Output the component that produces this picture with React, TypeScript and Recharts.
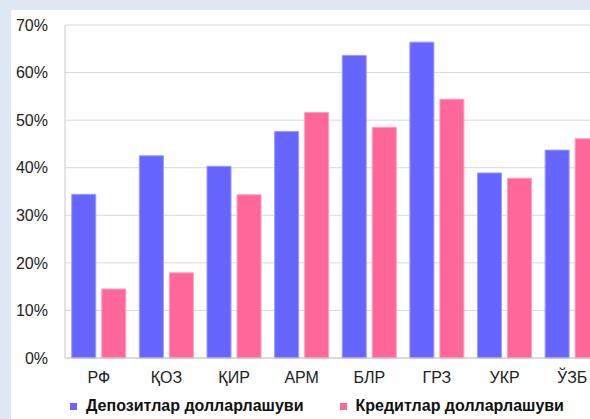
import { BarChart, Bar, XAxis, YAxis, CartesianGrid } from 'recharts';

const countries = ['РФ', 'ҚОЗ', 'ҚИР', 'АРМ', 'БЛР', 'ГРЗ', 'УКР', 'ЎЗБ'];
const deposits = [34.4, 42.5, 40.3, 47.6, 63.6, 66.4, 38.9, 43.7];
const loans = [14.5, 17.9, 34.3, 51.6, 48.5, 54.4, 37.8, 46.1];
const seriesNames = ['Депозитлар долларлашуви', 'Кредитлар долларлашуви'];
const yTicks = [0, 10, 20, 30, 40, 50, 60, 70];

const COLORS = {
  deposits: '#6666ff',
  depositsEdge: '#9a9aff',
  loans: '#ff6699',
  loansEdge: '#ff9fc0',
};

const data = countries.map((c, i) => ({ country: c, deposits: deposits[i], loans: loans[i] }));

const FONT = '"Liberation Sans", Arial, sans-serif';

export default function App() {
  return (
    <div
      style={{
        position: 'fixed',
        left: 0,
        top: 0,
        width: 590,
        height: 419,
        background: '#dde8f4',
        overflow: 'hidden',
        fontFamily: FONT,
      }}
    >
      <div style={{ position: 'absolute', left: 11, top: 10, width: 620, height: 409, background: '#fff' }}>
        <BarChart
          width={600}
          height={409}
          data={data}
          margin={{ top: 15, right: 5, left: 0, bottom: 31 }}
          barCategoryGap="10%"
          barGap={6}
        >
          <CartesianGrid vertical={false} stroke="#d9d9d9" />
          <XAxis
            dataKey="country"
            height={30}
            tickLine={false}
            stroke="#c8c8c8"
            tick={{ fill: '#222', fontSize: 16, fontFamily: FONT }}
            tickMargin={8}
            interval={0}
          />
          <YAxis
            width={54}
            domain={[0, 70]}
            ticks={yTicks}
            tickFormatter={(v) => `${v}%`}
            tickLine={false}
            stroke="#c8c8c8"
            tick={{ fill: '#222', fontSize: 16, fontFamily: FONT }}
            tickMargin={11}
          />
          <Bar
            dataKey="deposits"
            name={seriesNames[0]}
            fill={COLORS.deposits}
            stroke={COLORS.depositsEdge}
            strokeWidth={1}
            isAnimationActive={false}
          />
          <Bar
            dataKey="loans"
            name={seriesNames[1]}
            fill={COLORS.loans}
            stroke={COLORS.loansEdge}
            strokeWidth={1}
            isAnimationActive={false}
          />
        </BarChart>
      </div>
      <div
        style={{
          position: 'absolute',
          left: 70,
          top: 397,
          display: 'flex',
          alignItems: 'center',
          fontSize: 16,
          fontWeight: 'bold',
          color: '#111',
          whiteSpace: 'nowrap',
        }}
      >
        <span style={{ width: 7, height: 7, background: COLORS.deposits, marginRight: 9 }} />
        <span>{seriesNames[0]}</span>
        <span style={{ width: 7, height: 7, background: COLORS.loans, marginLeft: 36, marginRight: 9 }} />
        <span>{seriesNames[1]}</span>
      </div>
    </div>
  );
}
